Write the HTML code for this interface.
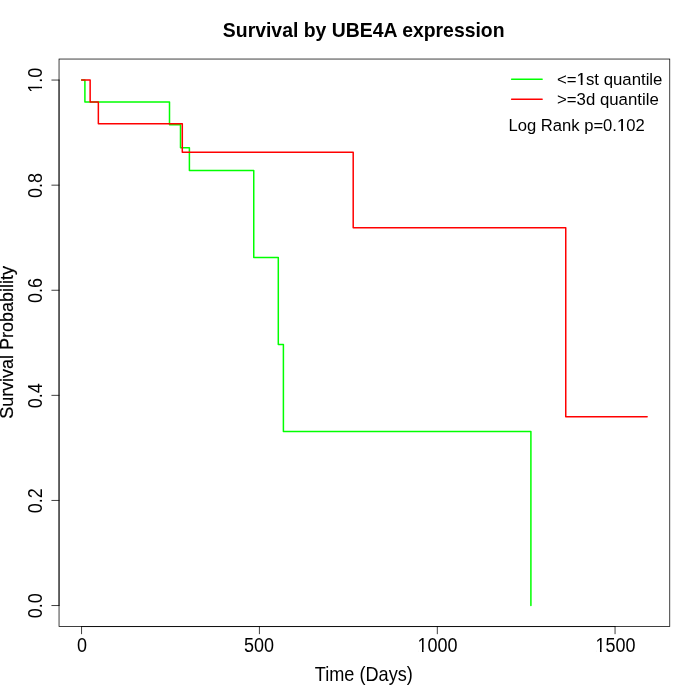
<!DOCTYPE html>
<html>
<head>
<meta charset="utf-8">
<title>Survival by UBE4A expression</title>
<style>
html,body{margin:0;padding:0;background:#fff;}
body{width:700px;height:700px;overflow:hidden;}
svg{display:block;will-change:transform;}
text{font-family:"Liberation Sans",sans-serif;fill:#000;}
</style>
</head>
<body>
<svg width="700" height="700" viewBox="0 0 700 700">
<rect x="0" y="0" width="700" height="700" fill="#fff"/>
<!-- title -->
<text transform="translate(363.7,37.05) scale(1.011,1.10)" font-size="19.2" font-weight="bold" text-anchor="middle">Survival by UBE4A expression</text>
<!-- curves -->
<g fill="none" stroke-width="1.5" stroke-linejoin="round" stroke-linecap="round">
<polyline stroke="#00ff00" points="81.66,80.06 84.9,80.06 84.9,101.96 169.5,101.96 169.5,124.83 180.5,124.83 180.5,147.74 189.4,147.74 189.4,170.6 253.75,170.6 253.75,257.6 278.3,257.6 278.3,344.6 283.4,344.6 283.4,431.6 530.9,431.6 530.9,605.54"/>
<polyline stroke="#ff0000" points="81.66,80.06 90.15,80.06 90.15,101.96 98.35,101.96 98.35,123.84 182.3,123.84 182.3,152.2 353.2,152.2 353.2,227.7 565.75,227.7 565.75,416.65 647.15,416.65"/>
</g>
<!-- box and axes -->
<g fill="none" stroke="#000" stroke-width="0.75" stroke-linecap="round">
<rect x="59.04" y="59.04" width="610.72" height="567.52"/>
<path d="M81.55,626.56H615.05 M81.55,626.56v7.2 M259.42,626.56v7.2 M437.32,626.56v7.2 M615.05,626.56v7.2"/>
<path d="M59.04,605.54V80.06 M59.04,605.54h-7.2 M59.04,500.44h-7.2 M59.04,395.35h-7.2 M59.04,290.25h-7.2 M59.04,185.16h-7.2 M59.04,80.06h-7.2"/>
</g>
<!-- x tick labels -->
<g font-size="18" text-anchor="middle">
<text transform="translate(82.0,651.6) scale(1,1.11)">0</text>
<text transform="translate(258.90,651.6) scale(1,1.11)">500</text>
<text transform="translate(437.4,651.6) scale(1,1.11)">1000</text>
<text transform="translate(615.4,651.6) scale(1,1.11)">1500</text>
</g>
<!-- y tick labels -->
<g font-size="18" text-anchor="middle">
<text transform="translate(41.6,605.84) rotate(-90) scale(1,1.13)">0.0</text>
<text transform="translate(41.6,500.74) rotate(-90) scale(1,1.13)">0.2</text>
<text transform="translate(41.6,395.65) rotate(-90) scale(1,1.13)">0.4</text>
<text transform="translate(41.6,290.55) rotate(-90) scale(1,1.13)">0.6</text>
<text transform="translate(41.6,185.46) rotate(-90) scale(1,1.13)">0.8</text>
<text transform="translate(41.6,80.36) rotate(-90) scale(1,1.13)">1.0</text>
</g>
<!-- axis titles -->
<text transform="translate(363.8,680.6) scale(1.008,1.125)" font-size="18" text-anchor="middle">Time (Days)</text>
<text transform="translate(12.7,342.4) rotate(-90) scale(1,1.06)" font-size="18" text-anchor="middle" stroke="#000" stroke-width="0.18">Survival Probability</text>
<!-- legend -->
<g fill="none" stroke-width="1.5" stroke-linecap="round">
<line x1="511.65" y1="79.2" x2="542.15" y2="79.2" stroke="#00ff00"/>
<line x1="511.65" y1="99.36" x2="542.15" y2="99.36" stroke="#ff0000"/>
</g>
<g font-size="16.8">
<text transform="translate(557,85) scale(1,1)">&lt;=1st quantile</text>
<text transform="translate(557,105) scale(1,1)">&gt;=3d quantile</text>
<text transform="translate(508.4,131) scale(0.99,1)">Log Rank p=0.102</text>
</g>
<!-- trim foot serifs of digit 1 to mimic Helvetica-style numeral -->
<g fill="#fff" stroke="none">
<rect x="418.2" y="649.5" width="3.78" height="3"/><rect x="423.57" y="649.5" width="3.7" height="3"/>
<rect x="596.2" y="649.5" width="3.78" height="3"/><rect x="601.57" y="649.5" width="3.7" height="3"/>
<rect x="576.5" y="82.5" width="4.2" height="3"/><rect x="582.2" y="82.5" width="3.3" height="3"/>
<rect x="617.5" y="128.5" width="3.7" height="3"/><rect x="622.65" y="128.5" width="3.5" height="3"/>
<rect x="39.5" y="82.4" width="3" height="4.35"/><rect x="39.5" y="88.25" width="3" height="3.75"/>
</g>
<g fill="#000" stroke="none">
<rect x="581.3" y="73" width="1.1" height="12"/>
<rect x="621.7" y="119" width="1.25" height="12"/>
</g>
</svg>
</body>
</html>
